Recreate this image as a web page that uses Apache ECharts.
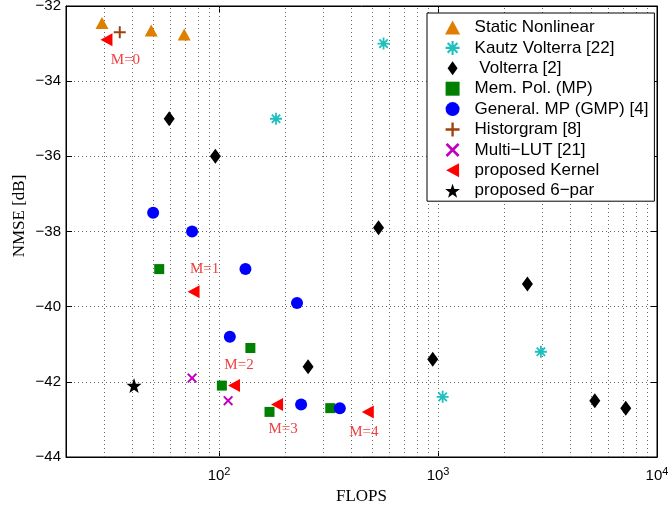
<!DOCTYPE html>
<html>
<head>
<meta charset="utf-8">
<script src="https://cdn.jsdelivr.net/npm/echarts@6/dist/echarts.min.js"></script>
<style>
html,body{margin:0;padding:0;background:#fff;}
#chart{width:668px;height:505px;}
</style>
</head>
<body>
<div id="chart"></div>
<script>
// ---- data (FLOPS, NMSE dB) ----
const staticNonlinear = [[29.2, -32.45], [49, -32.65], [69.3, -32.76]];
const kautzVolterra   = [[564, -33.0], [182, -35.0], [2950, -41.2], [1050, -42.4]];
const volterra        = [[59.2, -35.0], [96.2, -36.0], [535, -37.9], [2560, -39.4], [946, -41.4], [255, -41.6], [5200, -42.5], [7200, -42.7]];
const memPol          = [[53.3, -39.0], [139, -41.1], [103, -42.1], [170, -42.8], [322, -42.7]];
const generalMP       = [[50, -37.5], [75.3, -38.0], [132, -39.0], [227, -39.9], [112, -40.8], [237, -42.6], [356, -42.7]];
const histogram       = [[35.2, -32.7]];
const multiLUT        = [[75.3, -41.9], [110, -42.5]];
const proposedKernel  = [[30.6, -32.9], [76.5, -39.6], [117, -42.1], [184, -42.6], [478, -42.8]];
const proposed6par    = [[40.9, -42.1]];
const kernelLabels    = ['M=0', 'M=1', 'M=2', 'M=3', 'M=4'];
const seriesNames = ['Static Nonlinear', 'Kautz Volterra [22]', ' Volterra [2]', 'Mem. Pol. (MP)',
  'General. MP (GMP) [4]', 'Historgram [8]', 'Multi\u2212LUT [21]', 'proposed Kernel', 'proposed 6\u2212par'];
const yAxisTitle = 'NMSE [dB]';
const xAxisTitle = 'FLOPS';
const xMajorTicks = [100, 1000, 10000];
const xGridValues = [30, 40, 50, 60, 70, 80, 90, 100, 200, 300, 400, 500, 600, 700, 800, 900, 1000,
  2000, 3000, 4000, 5000, 6000, 7000, 8000, 9000];

// ---- styles ----
const SYM = {
  tri: 'path://M6.5,0 L13,12 L0,12 Z',
  ast: 'path://M8.5,0 H11.5 V20 H8.5 Z M0,8.5 H20 V11.5 H0 Z M4.06,1.94 L18.06,15.94 L15.94,18.06 L1.94,4.06 Z M15.94,1.94 L18.06,4.06 L4.06,18.06 L1.94,15.94 Z',
  dia: 'path://M5,0 L10,7 L5,14 L0,7 Z',
  sq: 'path://M0,0 H10 V10 H0 Z',
  plus: 'path://M5,0 H7 V5 H12 V7 H7 V12 H5 V7 H0 V5 H5 Z',
  x: 'path://M0,1.4 L1.4,0 L5,3.6 L8.6,0 L10,1.4 L6.4,5 L10,8.6 L8.6,10 L5,6.4 L1.4,10 L0,8.6 L3.6,5 Z',
  left: 'path://M0,6.5 L12,0 L12,13 Z',
  star: 'path://M10,0 L12.35,6.76 L19.51,6.91 L13.8,11.24 L15.88,18.09 L10,14 L4.12,18.09 L6.2,11.24 L0.49,6.91 L7.65,6.76 Z'
};
const gridLine = { color: '#666', width: 1, type: [1, 3] };
const labelOffsets = [[19, 20], [11, -23], [5, -21], [6, 25], [-4, 20]];

function sc(name, data, symbol, size, color, extra) {
  return Object.assign({
    name: name, type: 'scatter', data: data, symbol: symbol, symbolSize: size,
    itemStyle: { color: color, opacity: 1 }, z: 3, emphasis: { disabled: true }
  }, extra || {});
}

const chart = echarts.init(document.getElementById('chart'), null, { renderer: 'canvas' });
const option = {
  animation: false,
  backgroundColor: '#fff',
  textStyle: { fontFamily: 'Liberation Sans' },
  grid: { left: 66, top: 6, right: 11, bottom: 48, containLabel: false, outerBoundsMode: 'none',
    show: true, borderColor: '#000', borderWidth: 1, backgroundColor: 'transparent' },
  graphic: [{
    type: 'text', x: 20, y: 216, rotation: Math.PI / 2, silent: true,
    style: { text: yAxisTitle, fontFamily: 'Liberation Serif', fontSize: 17, fill: '#000',
      align: 'center', verticalAlign: 'middle' }
  }],
  legend: {
    orient: 'vertical', left: 427, top: 13,
    padding: [6, 6, 2, 18],
    itemWidth: 34, itemHeight: 14, itemGap: 3.4,
    backgroundColor: '#fff', borderColor: '#000', borderWidth: 1, borderRadius: 0,
    selectedMode: false,
    textStyle: { fontFamily: 'Liberation Sans', fontSize: 17, color: '#000' },
    data: seriesNames
  },
  xAxis: [{
    type: 'log', logBase: 10, min: 20, max: 10000,
    axisLine: { show: true, lineStyle: { color: '#000', width: 1 } },
    axisTick: { show: true, inside: true, length: 6, customValues: xMajorTicks, lineStyle: { color: '#000' } },
    splitLine: { show: false },
    axisLabel: {
      customValues: xMajorTicks, margin: 9, color: '#000',
      formatter: function (v) { return '{b|10}{s|' + Math.round(Math.log10(v)) + '}'; },
      rich: {
        b: { fontSize: 15, fontFamily: 'Liberation Sans', color: '#000' },
        s: { fontSize: 11, fontFamily: 'Liberation Sans', color: '#000', verticalAlign: 'bottom', padding: [0, 0, 9, 0] }
      }
    },
    name: xAxisTitle, nameLocation: 'middle', nameGap: 31,
    nameTextStyle: { fontFamily: 'Liberation Serif', fontSize: 17, color: '#000' }
  }, {
    type: 'log', logBase: 10, min: 20, max: 10000, position: 'top',
    axisLine: { show: true, lineStyle: { color: '#000' } },
    axisTick: { show: true, inside: true, length: 6, customValues: xMajorTicks, lineStyle: { color: '#000' } },
    axisLabel: { show: false }, splitLine: { show: false }
  }],
  yAxis: [{
    type: 'value', min: -44, max: -32, interval: 2,
    axisLine: { show: true, lineStyle: { color: '#000', width: 1 } },
    axisTick: { show: true, inside: true, length: 6, lineStyle: { color: '#000' } },
    splitLine: { show: true, lineStyle: gridLine },
    axisLabel: {
      fontSize: 15, color: '#000', margin: 5, fontFamily: 'Liberation Sans',
      formatter: function (v) { return String(v).replace('-', '\u2212'); }
    }
  }, {
    type: 'value', min: -44, max: -32, interval: 2, position: 'right',
    axisLine: { show: true, lineStyle: { color: '#000' } },
    axisTick: { show: true, inside: true, length: 6, lineStyle: { color: '#000' } },
    axisLabel: { show: false }, splitLine: { show: false }
  }],
  series: [
    sc(seriesNames[0], staticNonlinear, SYM.tri, [13, 12], '#DF7F00', {
      markLine: {
        silent: true, symbol: 'none', z: 1, animation: false,
        label: { show: false },
        lineStyle: gridLine,
        emphasis: { disabled: true },
        data: xGridValues.map(function (v) { return { xAxis: v }; })
      }
    }),
    sc(seriesNames[1], kautzVolterra, SYM.ast, 12, '#1FBFBF'),
    sc(seriesNames[2], volterra, SYM.dia, [11, 15], '#000'),
    sc(seriesNames[3], memPol, SYM.sq, 10, '#008000'),
    sc(seriesNames[4], generalMP, 'circle', 12, '#0000FF'),
    sc(seriesNames[5], histogram, SYM.plus, 12, '#A0400F'),
    sc(seriesNames[6], multiLUT, SYM.x, 10, '#C000C0'),
    sc(seriesNames[7], proposedKernel.map(function (p, i) {
      return {
        value: p,
        label: {
          show: true, formatter: kernelLabels[i], position: 'inside',
          offset: labelOffsets[i], color: '#F04040',
          fontFamily: 'Liberation Serif', fontSize: 15
        }
      };
    }), SYM.left, [12, 13], '#FF0000'),
    sc(seriesNames[8], proposed6par, SYM.star, 15, '#000')
  ]
};
chart.setOption(option);
</script>
</body>
</html>
